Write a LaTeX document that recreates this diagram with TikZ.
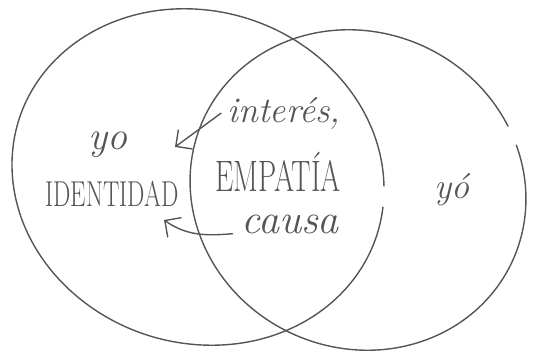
\documentclass[tikz,border=0pt]{standalone}
\usepackage{graphicx}
\usetikzlibrary{positioning,arrows.meta}
\definecolor{ink}{HTML}{555555}

\begin{document}
\begin{tikzpicture}[
  x=1pt, y=1pt,
  ring/.style={draw=ink, line width=1.4pt},
  word/.style={text=ink, inner sep=0pt},
  arr/.style={-{Straight Barb[length=12pt,width=24pt]}, draw=ink, line width=1.4pt}
]
  \useasboundingbox (0,0) rectangle (546,-356);

  % two overlapping circles
  \draw[ring, shift={(198,-177)}, rotate=-18] (17:188 and 166) arc[start angle=17, end angle=370, x radius=188, y radius=166];
  \draw[ring, shift={(358,-190)}, rotate=-25] (50:170 and 158) arc[start angle=50, end angle=403, x radius=170, y radius=158];

  \node[word, font=\fontsize{40}{40}\selectfont\itshape] (yoleft) at (108,-145) {yo};
  \node[word, font=\fontsize{36}{36}\selectfont] (identidad) at (112,-194) {\scalebox{0.68}[1]{IDENTIDAD}};
  \node[word, font=\fontsize{36}{36}\selectfont\itshape] (interes) at (284,-113) {interés,};
  \node[word, font=\fontsize{44}{44}\selectfont] (empatia) at (278,-172) {\scalebox{0.66}[1]{EMPATÍA}};
  \node[word, font=\fontsize{42}{42}\selectfont\itshape] (causa) at (290,-224) {causa};
  \node[word, font=\fontsize{36}{36}\selectfont\itshape] (yoright) at (452,-190) {yó};

  % arrow tips
  \coordinate (tipa) at (175,-147);
  \coordinate (tipb) at (164,-220);

  \draw[arr] ([xshift=-6pt]interes.west) -- (tipa);
  \draw[arr] ([xshift=-8pt]causa.south west) to[out=185, in=-35] (tipb);
\end{tikzpicture}
\end{document}
